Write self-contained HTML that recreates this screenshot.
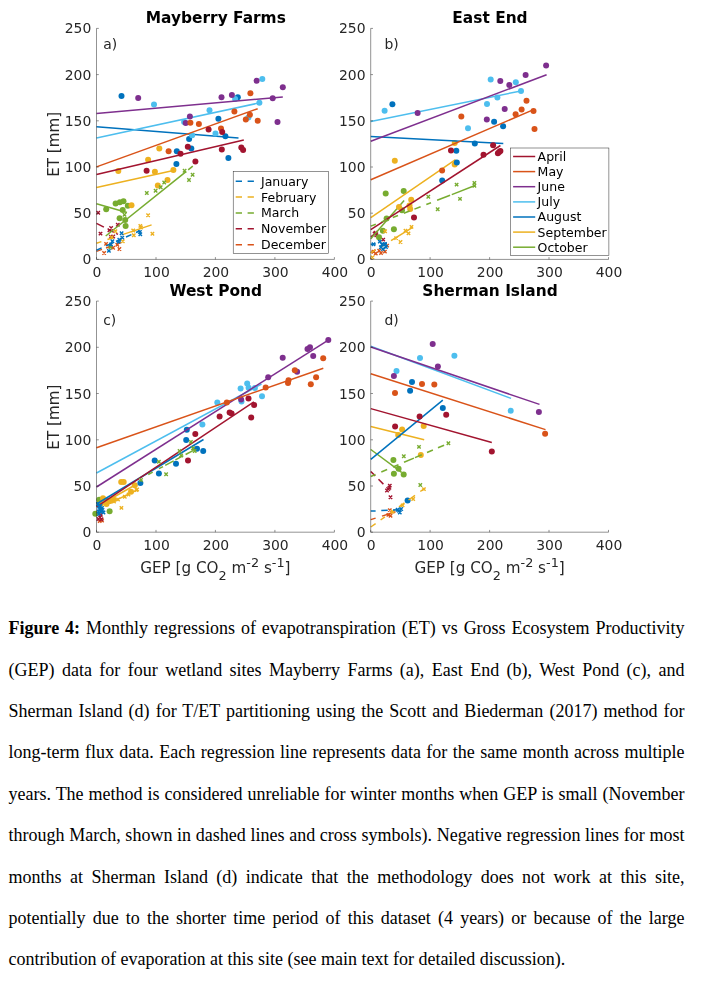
<!DOCTYPE html>
<html lang="en"><head><meta charset="utf-8"><title>Figure 4</title>
<style>
html,body{margin:0;padding:0;background:#fff}
body{width:705px;height:987px;overflow:hidden;position:relative}
svg{position:absolute;left:0;top:0;display:block;will-change:transform}
svg text{font-family:"DejaVu Sans","Liberation Sans",sans-serif;fill:#262626;letter-spacing:0px}
.tk{font-size:13.9px}
.lg{font-size:12.5px;fill:#000}
.lb{font-size:15.2px}
.sub{font-size:12.8px}
.tt{font-size:15.4px;font-weight:bold;fill:#000}
.cap{position:absolute;left:8.5px;top:0;width:676px;margin:0;font-family:"Liberation Serif","DejaVu Serif",serif;font-size:18px;line-height:41.4px;color:#000}
.ln{position:absolute;left:0;width:100%;height:41.4px;text-align:justify;text-align-last:justify;white-space:normal}
.ln.last{text-align:left;text-align-last:left;white-space:nowrap}
</style></head><body>
<svg width="705" height="600" viewBox="0 0 705 600">
<g>
<path d="M104.4 242.2l3.4 3.4m-3.4 0l3.4 -3.4M115.6 243l3.4 3.4m-3.4 0l3.4 -3.4M117.7 247.3l3.4 3.4m-3.4 0l3.4 -3.4M111.4 246l3.4 3.4m-3.4 0l3.4 -3.4M102.4 251.3l3.4 3.4m-3.4 0l3.4 -3.4M108.7 244.5l3.4 3.4m-3.4 0l3.4 -3.4" stroke="#D95319" stroke-width="1.4" fill="none"/>
<line x1="96.5" y1="251.4" x2="102" y2="249.4" stroke="#D95319" stroke-width="1.5"/>
<line x1="106" y1="248" x2="112" y2="245.8" stroke="#D95319" stroke-width="1.5"/>
<line x1="116" y1="244.4" x2="121" y2="242.6" stroke="#D95319" stroke-width="1.5"/>
<path d="M96.5 211l3.4 3.4m-3.4 0l3.4 -3.4M98.8 231.9l3.4 3.4m-3.4 0l3.4 -3.4M109.4 226.3l3.4 3.4m-3.4 0l3.4 -3.4M107.7 228.6l3.4 3.4m-3.4 0l3.4 -3.4M116.1 223l3.4 3.4m-3.4 0l3.4 -3.4M109.2 235.1l3.4 3.4m-3.4 0l3.4 -3.4M111.5 234.8l3.4 3.4m-3.4 0l3.4 -3.4" stroke="#A2142F" stroke-width="1.4" fill="none"/>
<line x1="96.5" y1="223.4" x2="103.9" y2="227.2" stroke="#A2142F" stroke-width="1.5"/>
<line x1="108" y1="229.3" x2="114" y2="232.4" stroke="#A2142F" stroke-width="1.5"/>
<line x1="116" y1="233.4" x2="118" y2="234.4" stroke="#A2142F" stroke-width="1.5"/>
<g fill="#77AC30"><circle cx="115.6" cy="203.6" r="3.0"/><circle cx="119.9" cy="202.2" r="3.0"/><circle cx="123.5" cy="201.2" r="3.0"/><circle cx="127.8" cy="205.7" r="3.0"/><circle cx="106.2" cy="209.3" r="3.0"/><circle cx="122.7" cy="210" r="3.0"/><circle cx="119.6" cy="218.2" r="3.0"/><circle cx="125.2" cy="220" r="3.0"/><circle cx="125.6" cy="226" r="3.0"/></g>
<line x1="96.5" y1="203.7" x2="127" y2="212.5" stroke="#77AC30" stroke-width="1.5"/>
<g fill="#EDB120"><circle cx="159.3" cy="148.4" r="3.0"/><circle cx="148.1" cy="159.8" r="3.0"/><circle cx="118.3" cy="171" r="3.0"/><circle cx="154.9" cy="171.7" r="3.0"/><circle cx="173.4" cy="170" r="3.0"/><circle cx="157.8" cy="185.6" r="3.0"/><circle cx="167.5" cy="180" r="3.0"/><circle cx="131.5" cy="205.2" r="3.0"/></g>
<line x1="96.5" y1="187.4" x2="173.4" y2="170.4" stroke="#EDB120" stroke-width="1.5"/>
<g fill="#0072BD"><circle cx="121.5" cy="95.9" r="3.0"/><circle cx="189.1" cy="138.9" r="3.0"/><circle cx="191.3" cy="148.5" r="3.0"/><circle cx="176.8" cy="151.3" r="3.0"/><circle cx="176.4" cy="164" r="3.0"/><circle cx="237.8" cy="97.3" r="3.0"/><circle cx="218.4" cy="118.8" r="3.0"/><circle cx="225.4" cy="136.2" r="3.0"/><circle cx="228.4" cy="158" r="3.0"/></g>
<line x1="96.5" y1="126.7" x2="238.5" y2="137.9" stroke="#0072BD" stroke-width="1.5"/>
<g fill="#4DBEEE"><circle cx="154" cy="104.6" r="3.0"/><circle cx="209.5" cy="110.2" r="3.0"/><circle cx="184.1" cy="121.9" r="3.0"/><circle cx="192.1" cy="135.2" r="3.0"/><circle cx="262.3" cy="79.1" r="3.0"/><circle cx="235.1" cy="99" r="3.0"/><circle cx="259.4" cy="102.8" r="3.0"/><circle cx="248.4" cy="117.4" r="3.0"/><circle cx="215.5" cy="133.4" r="3.0"/></g>
<line x1="96.5" y1="138.1" x2="259.8" y2="102.8" stroke="#4DBEEE" stroke-width="1.5"/>
<g fill="#7E2F8E"><circle cx="138.2" cy="97.9" r="3.0"/><circle cx="189.9" cy="116.5" r="3.0"/><circle cx="185.7" cy="122.9" r="3.0"/><circle cx="256.6" cy="80.7" r="3.0"/><circle cx="282.8" cy="87.3" r="3.0"/><circle cx="221.5" cy="97.2" r="3.0"/><circle cx="231.9" cy="95.1" r="3.0"/><circle cx="272.7" cy="98.2" r="3.0"/><circle cx="277.5" cy="121.9" r="3.0"/></g>
<line x1="96.5" y1="113.4" x2="282.8" y2="97" stroke="#7E2F8E" stroke-width="1.5"/>
<g fill="#D95319"><circle cx="190.4" cy="122.8" r="3.0"/><circle cx="198.9" cy="124.1" r="3.0"/><circle cx="168.6" cy="151.3" r="3.0"/><circle cx="250.4" cy="93.3" r="3.0"/><circle cx="234.4" cy="111.5" r="3.0"/><circle cx="249.9" cy="114.7" r="3.0"/><circle cx="245.8" cy="119.6" r="3.0"/><circle cx="257.7" cy="120.8" r="3.0"/><circle cx="221" cy="128.5" r="3.0"/></g>
<line x1="96.5" y1="166.9" x2="257.7" y2="108.7" stroke="#D95319" stroke-width="1.5"/>
<g fill="#A2142F"><circle cx="208.6" cy="129.6" r="3.0"/><circle cx="187.8" cy="146.8" r="3.0"/><circle cx="180.5" cy="153.8" r="3.0"/><circle cx="195.4" cy="161.5" r="3.0"/><circle cx="146.6" cy="170.7" r="3.0"/><circle cx="222.2" cy="131.9" r="3.0"/><circle cx="221.8" cy="149.4" r="3.0"/><circle cx="241.3" cy="147.5" r="3.0"/><circle cx="243.1" cy="149.9" r="3.0"/></g>
<line x1="96.5" y1="174.6" x2="243.8" y2="139.9" stroke="#A2142F" stroke-width="1.5"/>
<path d="M145.1 191.3l3.4 3.4m-3.4 0l3.4 -3.4M153.9 189.1l3.4 3.4m-3.4 0l3.4 -3.4M159 185.5l3.4 3.4m-3.4 0l3.4 -3.4M162.5 180.8l3.4 3.4m-3.4 0l3.4 -3.4M182.9 169l3.4 3.4m-3.4 0l3.4 -3.4M190.9 173l3.4 3.4m-3.4 0l3.4 -3.4M187.3 178.3l3.4 3.4m-3.4 0l3.4 -3.4M122.8 213l3.4 3.4m-3.4 0l3.4 -3.4M108.7 245.5l3.4 3.4m-3.4 0l3.4 -3.4" stroke="#77AC30" stroke-width="1.4" fill="none"/>
<line x1="105.7" y1="236" x2="186" y2="171.6" stroke="#77AC30" stroke-width="1.5"/>
<line x1="188.2" y1="169.8" x2="192.8" y2="166.1" stroke="#77AC30" stroke-width="1.5"/>
<path d="M146.4 213.5l3.4 3.4m-3.4 0l3.4 -3.4M150.7 232l3.4 3.4m-3.4 0l3.4 -3.4M138.6 224.2l3.4 3.4m-3.4 0l3.4 -3.4M139.3 225.8l3.4 3.4m-3.4 0l3.4 -3.4M132.1 233.5l3.4 3.4m-3.4 0l3.4 -3.4M131.5 228.8l3.4 3.4m-3.4 0l3.4 -3.4M113.7 229.6l3.4 3.4m-3.4 0l3.4 -3.4M121.1 239.5l3.4 3.4m-3.4 0l3.4 -3.4M110 235.6l3.4 3.4m-3.4 0l3.4 -3.4" stroke="#EDB120" stroke-width="1.4" fill="none"/>
<line x1="96.5" y1="243.2" x2="101.4" y2="241.6" stroke="#EDB120" stroke-width="1.5"/>
<line x1="107.5" y1="239.5" x2="113" y2="237.7" stroke="#EDB120" stroke-width="1.5"/>
<line x1="122.5" y1="234.6" x2="151.6" y2="224.9" stroke="#EDB120" stroke-width="1.5"/>
<path d="M119.9 231.6l3.4 3.4m-3.4 0l3.4 -3.4M138.2 230.3l3.4 3.4m-3.4 0l3.4 -3.4M138.6 232.6l3.4 3.4m-3.4 0l3.4 -3.4M120.6 235.9l3.4 3.4m-3.4 0l3.4 -3.4M117.6 238.1l3.4 3.4m-3.4 0l3.4 -3.4M116.9 240.2l3.4 3.4m-3.4 0l3.4 -3.4M110.7 239.5l3.4 3.4m-3.4 0l3.4 -3.4M107.2 249.2l3.4 3.4m-3.4 0l3.4 -3.4M109.3 242.8l3.4 3.4m-3.4 0l3.4 -3.4" stroke="#0072BD" stroke-width="1.4" fill="none"/>
<line x1="96.5" y1="250.2" x2="101.6" y2="247.9" stroke="#0072BD" stroke-width="1.5"/>
<line x1="106" y1="245.9" x2="112" y2="243.3" stroke="#0072BD" stroke-width="1.5"/>
<line x1="116" y1="241.5" x2="121" y2="239.2" stroke="#0072BD" stroke-width="1.5"/>
<line x1="126" y1="237" x2="131.4" y2="234.6" stroke="#0072BD" stroke-width="1.5"/>
<line x1="136" y1="232.5" x2="140" y2="230.7" stroke="#0072BD" stroke-width="1.5"/>
<path d="M96.5 28.4V259.4H334.4M96.5 259.4v-2.3M156 259.4v-2.3M215.4 259.4v-2.3M274.9 259.4v-2.3M334.4 259.4v-2.3M96.5 259.4h2.3M96.5 213.2h2.3M96.5 167h2.3M96.5 120.8h2.3M96.5 74.6h2.3M96.5 28.4h2.3" stroke="#262626" stroke-width="0.5" fill="none"/>
<g class="tk" text-anchor="middle"><text x="97" y="277.2">0</text><text x="156.5" y="277.2">100</text><text x="215.9" y="277.2">200</text><text x="275.4" y="277.2">300</text><text x="334.9" y="277.2">400</text></g>
<g class="tk" text-anchor="end"><text x="91.3" y="264.4">0</text><text x="91.3" y="218.2">50</text><text x="91.3" y="172">100</text><text x="91.3" y="125.8">150</text><text x="91.3" y="79.6">200</text><text x="91.3" y="33.4">250</text></g>
<text class="tt" text-anchor="middle" x="215.8" y="22.9">Mayberry Farms</text>
<text class="tk" x="103.2" y="48.9">a)</text>
</g>
<g>
<path d="M371.8 250.1l3.4 3.4m-3.4 0l3.4 -3.4M374.1 251.8l3.4 3.4m-3.4 0l3.4 -3.4M377.5 249l3.4 3.4m-3.4 0l3.4 -3.4M383.2 249.9l3.4 3.4m-3.4 0l3.4 -3.4M385.4 243.9l3.4 3.4m-3.4 0l3.4 -3.4M379.3 251.3l3.4 3.4m-3.4 0l3.4 -3.4" stroke="#D95319" stroke-width="1.4" fill="none"/>
<line x1="370.8" y1="252.6" x2="375.6" y2="249.6" stroke="#D95319" stroke-width="1.5"/>
<line x1="380" y1="246.8" x2="386" y2="243.1" stroke="#D95319" stroke-width="1.5"/>
<path d="M372.9 232l3.4 3.4m-3.4 0l3.4 -3.4M374.6 233.7l3.4 3.4m-3.4 0l3.4 -3.4M381.5 237.9l3.4 3.4m-3.4 0l3.4 -3.4M373.8 231.1l3.4 3.4m-3.4 0l3.4 -3.4" stroke="#A2142F" stroke-width="1.4" fill="none"/>
<line x1="370.8" y1="236.7" x2="378.1" y2="232.7" stroke="#A2142F" stroke-width="1.5"/>
<g fill="#77AC30"><circle cx="385.7" cy="193.4" r="3.0"/><circle cx="403.7" cy="191" r="3.0"/><circle cx="402" cy="210.3" r="3.0"/><circle cx="386.6" cy="218.6" r="3.0"/><circle cx="393.9" cy="229.3" r="3.0"/><circle cx="382.9" cy="230.8" r="3.0"/><circle cx="379" cy="237.3" r="3.0"/></g>
<line x1="370.8" y1="238.8" x2="404.1" y2="200.4" stroke="#77AC30" stroke-width="1.5"/>
<g fill="#EDB120"><circle cx="454.7" cy="142.9" r="3.0"/><circle cx="394.8" cy="160.7" r="3.0"/><circle cx="454.7" cy="164.5" r="3.0"/><circle cx="411.2" cy="199.7" r="3.0"/><circle cx="399" cy="207" r="3.0"/><circle cx="409.5" cy="205.4" r="3.0"/><circle cx="410.2" cy="208.9" r="3.0"/></g>
<line x1="370.8" y1="217.6" x2="455.5" y2="159.6" stroke="#EDB120" stroke-width="1.5"/>
<g fill="#0072BD"><circle cx="392.4" cy="104.3" r="3.0"/><circle cx="474.8" cy="143.5" r="3.0"/><circle cx="456.3" cy="150.7" r="3.0"/><circle cx="456.8" cy="162.5" r="3.0"/><circle cx="442.2" cy="180.4" r="3.0"/><circle cx="494.1" cy="121.7" r="3.0"/><circle cx="503.1" cy="126.2" r="3.0"/></g>
<line x1="370.8" y1="136.6" x2="503.3" y2="143.5" stroke="#0072BD" stroke-width="1.5"/>
<g fill="#4DBEEE"><circle cx="384.6" cy="110.7" r="3.0"/><circle cx="468" cy="128.2" r="3.0"/><circle cx="490.7" cy="79.6" r="3.0"/><circle cx="515.8" cy="82.3" r="3.0"/><circle cx="521" cy="90.9" r="3.0"/><circle cx="497.4" cy="97.5" r="3.0"/><circle cx="487" cy="104" r="3.0"/></g>
<line x1="370.8" y1="121.6" x2="521" y2="90.9" stroke="#4DBEEE" stroke-width="1.5"/>
<g fill="#7E2F8E"><circle cx="417.6" cy="113.1" r="3.0"/><circle cx="546.1" cy="65.5" r="3.0"/><circle cx="525.6" cy="75" r="3.0"/><circle cx="500.3" cy="81.1" r="3.0"/><circle cx="509.3" cy="84.9" r="3.0"/><circle cx="504.7" cy="109.1" r="3.0"/><circle cx="486.8" cy="119.4" r="3.0"/></g>
<line x1="370.8" y1="141.3" x2="546.6" y2="74.7" stroke="#7E2F8E" stroke-width="1.5"/>
<g fill="#D95319"><circle cx="461.3" cy="116.4" r="3.0"/><circle cx="526.5" cy="100.7" r="3.0"/><circle cx="521.6" cy="109.4" r="3.0"/><circle cx="533.5" cy="110.9" r="3.0"/><circle cx="515.6" cy="114.2" r="3.0"/><circle cx="534.5" cy="129" r="3.0"/><circle cx="442.1" cy="170.5" r="3.0"/></g>
<line x1="370.8" y1="179.8" x2="533.6" y2="109.6" stroke="#D95319" stroke-width="1.5"/>
<g fill="#A2142F"><circle cx="451" cy="150.5" r="3.0"/><circle cx="483.5" cy="154.8" r="3.0"/><circle cx="493.1" cy="145.2" r="3.0"/><circle cx="500.4" cy="151.1" r="3.0"/><circle cx="497.9" cy="153.2" r="3.0"/><circle cx="499.2" cy="152" r="3.0"/><circle cx="414" cy="217.6" r="3.0"/></g>
<line x1="370.8" y1="229.7" x2="500.4" y2="145.5" stroke="#A2142F" stroke-width="1.5"/>
<path d="M426.6 195.1l3.4 3.4m-3.4 0l3.4 -3.4M454.9 182.9l3.4 3.4m-3.4 0l3.4 -3.4M472.7 181.2l3.4 3.4m-3.4 0l3.4 -3.4M472.7 184.1l3.4 3.4m-3.4 0l3.4 -3.4M458.3 197.2l3.4 3.4m-3.4 0l3.4 -3.4M436 207.5l3.4 3.4m-3.4 0l3.4 -3.4" stroke="#77AC30" stroke-width="1.4" fill="none"/>
<line x1="370.8" y1="226.1" x2="375.8" y2="224.2" stroke="#77AC30" stroke-width="1.5"/>
<line x1="381.6" y1="221.9" x2="387" y2="219.8" stroke="#77AC30" stroke-width="1.5"/>
<line x1="392.8" y1="217.5" x2="398" y2="215.5" stroke="#77AC30" stroke-width="1.5"/>
<line x1="403.8" y1="213.3" x2="409.6" y2="211" stroke="#77AC30" stroke-width="1.5"/>
<line x1="414.4" y1="209.1" x2="420.6" y2="206.7" stroke="#77AC30" stroke-width="1.5"/>
<line x1="426.3" y1="204.5" x2="431" y2="202.7" stroke="#77AC30" stroke-width="1.5"/>
<line x1="437.1" y1="200.3" x2="450.1" y2="195.2" stroke="#77AC30" stroke-width="1.5"/>
<line x1="451.8" y1="194.6" x2="475.6" y2="185.3" stroke="#77AC30" stroke-width="1.5"/>
<path d="M409.8 225.2l3.4 3.4m-3.4 0l3.4 -3.4M403.8 229.1l3.4 3.4m-3.4 0l3.4 -3.4M406.8 231.7l3.4 3.4m-3.4 0l3.4 -3.4M394.4 236.4l3.4 3.4m-3.4 0l3.4 -3.4M398.8 240.3l3.4 3.4m-3.4 0l3.4 -3.4M370.7 255.7l3.4 3.4m-3.4 0l3.4 -3.4M383.4 229.6l3.4 3.4m-3.4 0l3.4 -3.4" stroke="#EDB120" stroke-width="1.4" fill="none"/>
<line x1="370.8" y1="252.9" x2="375.2" y2="250.2" stroke="#EDB120" stroke-width="1.5"/>
<line x1="380" y1="247.3" x2="385" y2="244.3" stroke="#EDB120" stroke-width="1.5"/>
<line x1="391" y1="240.6" x2="412.7" y2="227.4" stroke="#EDB120" stroke-width="1.5"/>
<path d="M371.8 242.5l3.4 3.4m-3.4 0l3.4 -3.4M378.1 239.9l3.4 3.4m-3.4 0l3.4 -3.4M380.3 242.8l3.4 3.4m-3.4 0l3.4 -3.4M383.2 242.2l3.4 3.4m-3.4 0l3.4 -3.4M379.2 245.6l3.4 3.4m-3.4 0l3.4 -3.4M381.3 247.3l3.4 3.4m-3.4 0l3.4 -3.4M384.3 245.3l3.4 3.4m-3.4 0l3.4 -3.4" stroke="#0072BD" stroke-width="1.4" fill="none"/>
<line x1="370.8" y1="244.2" x2="375.8" y2="243.9" stroke="#0072BD" stroke-width="1.5"/>
<line x1="381" y1="243.6" x2="387" y2="243.3" stroke="#0072BD" stroke-width="1.5"/>
<path d="M370.7 28.4V259.4H608.5M370.7 259.4v-2.3M430.1 259.4v-2.3M489.6 259.4v-2.3M549 259.4v-2.3M608.5 259.4v-2.3M370.7 259.4h2.3M370.7 213.2h2.3M370.7 167h2.3M370.7 120.8h2.3M370.7 74.6h2.3M370.7 28.4h2.3" stroke="#262626" stroke-width="0.5" fill="none"/>
<g class="tk" text-anchor="middle"><text x="371.2" y="277.2">0</text><text x="430.6" y="277.2">100</text><text x="490.1" y="277.2">200</text><text x="549.5" y="277.2">300</text><text x="609" y="277.2">400</text></g>
<g class="tk" text-anchor="end"><text x="365.5" y="264.4">0</text><text x="365.5" y="218.2">50</text><text x="365.5" y="172">100</text><text x="365.5" y="125.8">150</text><text x="365.5" y="79.6">200</text><text x="365.5" y="33.4">250</text></g>
<text class="tt" text-anchor="middle" x="490" y="22.9">East End</text>
<text class="tk" x="384.5" y="48.9">b)</text>
</g>
<g>
<path d="M98 519.3l3.4 3.4m-3.4 0l3.4 -3.4M100.3 518.8l3.4 3.4m-3.4 0l3.4 -3.4" stroke="#D95319" stroke-width="1.4" fill="none"/>
<path d="M99.2 513.1l3.4 3.4m-3.4 0l3.4 -3.4M96.7 517.3l3.4 3.4m-3.4 0l3.4 -3.4M99.8 517.6l3.4 3.4m-3.4 0l3.4 -3.4M98.3 515.8l3.4 3.4m-3.4 0l3.4 -3.4" stroke="#A2142F" stroke-width="1.4" fill="none"/>
<g fill="#77AC30"><circle cx="99.2" cy="499.7" r="3.0"/><circle cx="109.6" cy="511.3" r="3.0"/><circle cx="95.3" cy="513.8" r="3.0"/></g>
<line x1="96.5" y1="503" x2="108" y2="498.5" stroke="#77AC30" stroke-width="1.5"/>
<g fill="#EDB120"><circle cx="121.2" cy="482.1" r="3.0"/><circle cx="123.7" cy="482.1" r="3.0"/><circle cx="134.8" cy="485.2" r="3.0"/><circle cx="131" cy="491.7" r="3.0"/><circle cx="103" cy="498.2" r="3.0"/><circle cx="106.5" cy="503.9" r="3.0"/><circle cx="110" cy="501" r="3.0"/><circle cx="113.5" cy="499.5" r="3.0"/><circle cx="101" cy="503.5" r="3.0"/></g>
<line x1="98" y1="506" x2="136" y2="484.5" stroke="#EDB120" stroke-width="1.5"/>
<g fill="#0072BD"><circle cx="186.2" cy="440" r="3.0"/><circle cx="197" cy="448.7" r="3.0"/><circle cx="203.2" cy="451" r="3.0"/><circle cx="154.7" cy="460.6" r="3.0"/><circle cx="176" cy="463.7" r="3.0"/><circle cx="158.9" cy="473.5" r="3.0"/><circle cx="140.4" cy="482.9" r="3.0"/><circle cx="186.8" cy="429.8" r="3.0"/></g>
<line x1="96.5" y1="504" x2="203.5" y2="439.5" stroke="#0072BD" stroke-width="1.5"/>
<g fill="#4DBEEE"><circle cx="247.2" cy="383.5" r="3.0"/><circle cx="240.6" cy="388.5" r="3.0"/><circle cx="248.6" cy="387.7" r="3.0"/><circle cx="254.9" cy="388.1" r="3.0"/><circle cx="262" cy="396.3" r="3.0"/><circle cx="241.5" cy="401.4" r="3.0"/><circle cx="217.3" cy="402.4" r="3.0"/><circle cx="202.4" cy="424.4" r="3.0"/></g>
<line x1="96.5" y1="473" x2="261.5" y2="384.2" stroke="#4DBEEE" stroke-width="1.5"/>
<g fill="#7E2F8E"><circle cx="328.3" cy="340.1" r="3.0"/><circle cx="310" cy="347.2" r="3.0"/><circle cx="307.5" cy="349" r="3.0"/><circle cx="313.2" cy="356.1" r="3.0"/><circle cx="282.7" cy="357.8" r="3.0"/><circle cx="297.1" cy="371.8" r="3.0"/><circle cx="268.2" cy="377.3" r="3.0"/><circle cx="241.1" cy="399.4" r="3.0"/></g>
<line x1="96.5" y1="487" x2="328.3" y2="340.1" stroke="#7E2F8E" stroke-width="1.5"/>
<g fill="#D95319"><circle cx="323.2" cy="358.2" r="3.0"/><circle cx="294.8" cy="370.3" r="3.0"/><circle cx="316.1" cy="377.3" r="3.0"/><circle cx="288.5" cy="380.2" r="3.0"/><circle cx="288" cy="383.1" r="3.0"/><circle cx="310.8" cy="384.3" r="3.0"/><circle cx="265.7" cy="387.5" r="3.0"/><circle cx="226.8" cy="402.4" r="3.0"/></g>
<line x1="96.5" y1="447.8" x2="323.3" y2="368.2" stroke="#D95319" stroke-width="1.5"/>
<g fill="#A2142F"><circle cx="248.5" cy="398.5" r="3.0"/><circle cx="254.1" cy="405" r="3.0"/><circle cx="251.2" cy="417.6" r="3.0"/><circle cx="229.6" cy="412.6" r="3.0"/><circle cx="231.6" cy="413.4" r="3.0"/><circle cx="219.6" cy="416.5" r="3.0"/><circle cx="195.3" cy="433.9" r="3.0"/><circle cx="188" cy="460.4" r="3.0"/></g>
<line x1="96.5" y1="506.9" x2="253.9" y2="401.9" stroke="#A2142F" stroke-width="1.5"/>
<path d="M189.2 440.2l3.4 3.4m-3.4 0l3.4 -3.4M177.9 449.3l3.4 3.4m-3.4 0l3.4 -3.4M179.4 453.8l3.4 3.4m-3.4 0l3.4 -3.4M191.3 446.5l3.4 3.4m-3.4 0l3.4 -3.4M193 449.3l3.4 3.4m-3.4 0l3.4 -3.4M157.2 460.1l3.4 3.4m-3.4 0l3.4 -3.4M164.4 472.6l3.4 3.4m-3.4 0l3.4 -3.4M139.3 478.3l3.4 3.4m-3.4 0l3.4 -3.4" stroke="#77AC30" stroke-width="1.4" fill="none"/>
<line x1="148.2" y1="474.5" x2="152.7" y2="472.1" stroke="#77AC30" stroke-width="1.5"/>
<line x1="159" y1="468.7" x2="163" y2="466.6" stroke="#77AC30" stroke-width="1.5"/>
<line x1="165.2" y1="465.4" x2="173.7" y2="460.9" stroke="#77AC30" stroke-width="1.5"/>
<line x1="175.4" y1="459.9" x2="183.3" y2="455.7" stroke="#77AC30" stroke-width="1.5"/>
<line x1="185.6" y1="454.5" x2="193.5" y2="450.3" stroke="#77AC30" stroke-width="1.5"/>
<path d="M119.7 506.2l3.4 3.4m-3.4 0l3.4 -3.4M134.8 488.3l3.4 3.4m-3.4 0l3.4 -3.4M135.4 487.8l3.4 3.4m-3.4 0l3.4 -3.4M123.1 495.1l3.4 3.4m-3.4 0l3.4 -3.4M116.3 497.8l3.4 3.4m-3.4 0l3.4 -3.4M112.3 499.8l3.4 3.4m-3.4 0l3.4 -3.4M126.8 492.8l3.4 3.4m-3.4 0l3.4 -3.4" stroke="#EDB120" stroke-width="1.4" fill="none"/>
<line x1="109" y1="503.6" x2="138" y2="489.5" stroke="#EDB120" stroke-width="1.5"/>
<path d="M98.8 504.3l3.4 3.4m-3.4 0l3.4 -3.4M97.8 507.3l3.4 3.4m-3.4 0l3.4 -3.4M99.3 510.3l3.4 3.4m-3.4 0l3.4 -3.4M100.8 508.3l3.4 3.4m-3.4 0l3.4 -3.4M97.3 512.3l3.4 3.4m-3.4 0l3.4 -3.4M101.8 510.8l3.4 3.4m-3.4 0l3.4 -3.4M96.3 502.3l3.4 3.4m-3.4 0l3.4 -3.4M97.3 504.8l3.4 3.4m-3.4 0l3.4 -3.4M100.3 506.3l3.4 3.4m-3.4 0l3.4 -3.4M96.8 509.8l3.4 3.4m-3.4 0l3.4 -3.4" stroke="#0072BD" stroke-width="1.4" fill="none"/>
<path d="M96.5 301.1V532.2H334.4M96.5 532.2v-2.3M156 532.2v-2.3M215.4 532.2v-2.3M274.9 532.2v-2.3M334.4 532.2v-2.3M96.5 532.2h2.3M96.5 486h2.3M96.5 439.8h2.3M96.5 393.5h2.3M96.5 347.3h2.3M96.5 301.1h2.3" stroke="#262626" stroke-width="0.5" fill="none"/>
<g class="tk" text-anchor="middle"><text x="97" y="550">0</text><text x="156.5" y="550">100</text><text x="215.9" y="550">200</text><text x="275.4" y="550">300</text><text x="334.9" y="550">400</text></g>
<g class="tk" text-anchor="end"><text x="91.3" y="537.2">0</text><text x="91.3" y="491">50</text><text x="91.3" y="444.8">100</text><text x="91.3" y="398.5">150</text><text x="91.3" y="352.3">200</text><text x="91.3" y="306.1">250</text></g>
<text class="tt" text-anchor="middle" x="215.8" y="295.6">West Pond</text>
<text class="tk" x="103.2" y="325.2">c)</text>
</g>
<g>
<path d="M388.1 508.4l3.4 3.4m-3.4 0l3.4 -3.4M388.8 514.1l3.4 3.4m-3.4 0l3.4 -3.4M386.7 513.2l3.4 3.4m-3.4 0l3.4 -3.4" stroke="#D95319" stroke-width="1.4" fill="none"/>
<line x1="370.8" y1="519.6" x2="375.6" y2="518.1" stroke="#D95319" stroke-width="1.5"/>
<line x1="382" y1="516.1" x2="395.5" y2="511.8" stroke="#D95319" stroke-width="1.5"/>
<path d="M388.1 483.9l3.4 3.4m-3.4 0l3.4 -3.4M387.7 486l3.4 3.4m-3.4 0l3.4 -3.4M385.3 488.8l3.4 3.4m-3.4 0l3.4 -3.4M388.8 495.6l3.4 3.4m-3.4 0l3.4 -3.4" stroke="#A2142F" stroke-width="1.4" fill="none"/>
<line x1="370.8" y1="471.5" x2="375.2" y2="475.9" stroke="#A2142F" stroke-width="1.5"/>
<line x1="378.5" y1="479.2" x2="383.4" y2="484.1" stroke="#A2142F" stroke-width="1.5"/>
<line x1="386.5" y1="487.2" x2="390" y2="490.7" stroke="#A2142F" stroke-width="1.5"/>
<g fill="#77AC30"><circle cx="393.4" cy="460" r="3.0"/><circle cx="398.6" cy="468.8" r="3.0"/><circle cx="393.9" cy="473.8" r="3.0"/><circle cx="403.7" cy="474.5" r="3.0"/></g>
<line x1="370.8" y1="449.5" x2="401.6" y2="472.4" stroke="#77AC30" stroke-width="1.5"/>
<g fill="#EDB120"><circle cx="423.7" cy="426" r="3.0"/><circle cx="402.1" cy="429.4" r="3.0"/><circle cx="398.2" cy="435" r="3.0"/><circle cx="420.8" cy="455.1" r="3.0"/></g>
<line x1="370.8" y1="426.5" x2="424.2" y2="439.8" stroke="#EDB120" stroke-width="1.5"/>
<g fill="#0072BD"><circle cx="412" cy="381.9" r="3.0"/><circle cx="410.1" cy="390.8" r="3.0"/><circle cx="442.8" cy="408" r="3.0"/><circle cx="407.6" cy="500.5" r="3.0"/></g>
<line x1="370.8" y1="459.3" x2="442.8" y2="400.1" stroke="#0072BD" stroke-width="1.5"/>
<g fill="#4DBEEE"><circle cx="420" cy="357.9" r="3.0"/><circle cx="454.4" cy="355.7" r="3.0"/><circle cx="396.5" cy="371" r="3.0"/><circle cx="510.7" cy="410.7" r="3.0"/></g>
<line x1="370.8" y1="346.2" x2="511.1" y2="398.4" stroke="#4DBEEE" stroke-width="1.5"/>
<g fill="#7E2F8E"><circle cx="432.7" cy="344" r="3.0"/><circle cx="437.9" cy="366.6" r="3.0"/><circle cx="393.9" cy="376" r="3.0"/><circle cx="538.9" cy="412.1" r="3.0"/></g>
<line x1="370.8" y1="347" x2="539.5" y2="404.4" stroke="#7E2F8E" stroke-width="1.5"/>
<g fill="#D95319"><circle cx="422" cy="384.1" r="3.0"/><circle cx="434.3" cy="384.6" r="3.0"/><circle cx="395" cy="393.1" r="3.0"/><circle cx="545.1" cy="433.8" r="3.0"/></g>
<line x1="370.8" y1="373.7" x2="545.5" y2="429.6" stroke="#D95319" stroke-width="1.5"/>
<g fill="#A2142F"><circle cx="419.6" cy="416.5" r="3.0"/><circle cx="446.2" cy="414.8" r="3.0"/><circle cx="395.1" cy="426.5" r="3.0"/><circle cx="491.8" cy="451.6" r="3.0"/></g>
<line x1="370.8" y1="408.6" x2="491.8" y2="442.5" stroke="#A2142F" stroke-width="1.5"/>
<path d="M446.7 441.5l3.4 3.4m-3.4 0l3.4 -3.4M417.3 445.2l3.4 3.4m-3.4 0l3.4 -3.4M402.1 454.6l3.4 3.4m-3.4 0l3.4 -3.4M418.6 483.3l3.4 3.4m-3.4 0l3.4 -3.4" stroke="#77AC30" stroke-width="1.4" fill="none"/>
<line x1="370.8" y1="476.5" x2="375.5" y2="474.5" stroke="#77AC30" stroke-width="1.5"/>
<line x1="381.3" y1="472" x2="387.1" y2="469.5" stroke="#77AC30" stroke-width="1.5"/>
<line x1="393" y1="467" x2="398.5" y2="464.7" stroke="#77AC30" stroke-width="1.5"/>
<line x1="404" y1="462.3" x2="413.9" y2="458.1" stroke="#77AC30" stroke-width="1.5"/>
<line x1="415" y1="457.6" x2="421.8" y2="454.7" stroke="#77AC30" stroke-width="1.5"/>
<line x1="427" y1="452.5" x2="432.9" y2="450" stroke="#77AC30" stroke-width="1.5"/>
<line x1="438" y1="447.8" x2="444.1" y2="445.2" stroke="#77AC30" stroke-width="1.5"/>
<path d="M422.2 487.4l3.4 3.4m-3.4 0l3.4 -3.4M411.5 497.3l3.4 3.4m-3.4 0l3.4 -3.4M400.9 503.7l3.4 3.4m-3.4 0l3.4 -3.4M391 510.1l3.4 3.4m-3.4 0l3.4 -3.4" stroke="#EDB120" stroke-width="1.4" fill="none"/>
<line x1="370.8" y1="527" x2="375.6" y2="523.6" stroke="#EDB120" stroke-width="1.5"/>
<line x1="380.6" y1="520" x2="384.9" y2="516.9" stroke="#EDB120" stroke-width="1.5"/>
<line x1="390.5" y1="512.9" x2="395" y2="509.6" stroke="#EDB120" stroke-width="1.5"/>
<line x1="399" y1="506.8" x2="404.5" y2="502.8" stroke="#EDB120" stroke-width="1.5"/>
<line x1="408.5" y1="500" x2="415" y2="495.3" stroke="#EDB120" stroke-width="1.5"/>
<line x1="420.3" y1="491.5" x2="424.6" y2="488.4" stroke="#EDB120" stroke-width="1.5"/>
<path d="M395.9 508l3.4 3.4m-3.4 0l3.4 -3.4M399.5 507.3l3.4 3.4m-3.4 0l3.4 -3.4M398.1 510.8l3.4 3.4m-3.4 0l3.4 -3.4M397.3 509.1l3.4 3.4m-3.4 0l3.4 -3.4" stroke="#0072BD" stroke-width="1.4" fill="none"/>
<line x1="370.8" y1="511.1" x2="375.6" y2="510.9" stroke="#0072BD" stroke-width="1.5"/>
<line x1="381.3" y1="510.6" x2="387.7" y2="510.2" stroke="#0072BD" stroke-width="1.5"/>
<line x1="393" y1="510" x2="398" y2="509.7" stroke="#0072BD" stroke-width="1.5"/>
<path d="M370.7 301.1V532.2H608.5M370.7 532.2v-2.3M430.1 532.2v-2.3M489.6 532.2v-2.3M549 532.2v-2.3M608.5 532.2v-2.3M370.7 532.2h2.3M370.7 486h2.3M370.7 439.8h2.3M370.7 393.5h2.3M370.7 347.3h2.3M370.7 301.1h2.3" stroke="#262626" stroke-width="0.5" fill="none"/>
<g class="tk" text-anchor="middle"><text x="371.2" y="550">0</text><text x="430.6" y="550">100</text><text x="490.1" y="550">200</text><text x="549.5" y="550">300</text><text x="609" y="550">400</text></g>
<g class="tk" text-anchor="end"><text x="365.5" y="537.2">0</text><text x="365.5" y="491">50</text><text x="365.5" y="444.8">100</text><text x="365.5" y="398.5">150</text><text x="365.5" y="352.3">200</text><text x="365.5" y="306.1">250</text></g>
<text class="tt" text-anchor="middle" x="490" y="295.6">Sherman Island</text>
<text class="tk" x="384.5" y="325.2">d)</text>
</g>
<g>
<rect x="233.2" y="171.5" width="95.3" height="82" fill="#fff" stroke="#262626" stroke-width="0.5"/>
<line x1="235.7" y1="181.2" x2="254.2" y2="181.2" stroke="#0072BD" stroke-width="1.5" stroke-dasharray="6.3 5.6"/>
<text class="lg" x="261" y="185.6">January</text>
<line x1="235.7" y1="197.1" x2="254.2" y2="197.1" stroke="#EDB120" stroke-width="1.5" stroke-dasharray="6.3 5.6"/>
<text class="lg" x="261" y="201.5">February</text>
<line x1="235.7" y1="212.9" x2="254.2" y2="212.9" stroke="#77AC30" stroke-width="1.5" stroke-dasharray="6.3 5.6"/>
<text class="lg" x="261" y="217.3">March</text>
<line x1="235.7" y1="228.8" x2="254.2" y2="228.8" stroke="#A2142F" stroke-width="1.5" stroke-dasharray="6.3 5.6"/>
<text class="lg" x="261" y="233.2">November</text>
<line x1="235.7" y1="244.7" x2="254.2" y2="244.7" stroke="#D95319" stroke-width="1.5" stroke-dasharray="6.3 5.6"/>
<text class="lg" x="261" y="249.1">December</text>
</g>
<g>
<rect x="510.6" y="148" width="98.3" height="107.7" fill="#fff" stroke="#262626" stroke-width="0.5"/>
<line x1="513.1" y1="156.5" x2="535.2" y2="156.5" stroke="#A2142F" stroke-width="1.5"/>
<text class="lg" x="537.6" y="160.9">April</text>
<line x1="513.1" y1="171.6" x2="535.2" y2="171.6" stroke="#D95319" stroke-width="1.5"/>
<text class="lg" x="537.6" y="176">May</text>
<line x1="513.1" y1="186.7" x2="535.2" y2="186.7" stroke="#7E2F8E" stroke-width="1.5"/>
<text class="lg" x="537.6" y="191.1">June</text>
<line x1="513.1" y1="201.9" x2="535.2" y2="201.9" stroke="#4DBEEE" stroke-width="1.5"/>
<text class="lg" x="537.6" y="206.3">July</text>
<line x1="513.1" y1="217" x2="535.2" y2="217" stroke="#0072BD" stroke-width="1.5"/>
<text class="lg" x="537.6" y="221.4">August</text>
<line x1="513.1" y1="232.1" x2="535.2" y2="232.1" stroke="#EDB120" stroke-width="1.5"/>
<text class="lg" x="537.6" y="236.5">September</text>
<line x1="513.1" y1="247.2" x2="535.2" y2="247.2" stroke="#77AC30" stroke-width="1.5"/>
<text class="lg" x="537.6" y="251.6">October</text>
</g>
<text class="lb" text-anchor="middle" x="215.4" y="573.4">GEP [g CO<tspan class="sub" dy="7.0">2</tspan><tspan dy="-7.0"> m</tspan><tspan class="sub" dy="-6.3">-2</tspan><tspan dy="6.3"> s</tspan><tspan class="sub" dy="-6.3">-1</tspan><tspan dy="6.3">]</tspan></text>
<text class="lb" text-anchor="middle" x="489.6" y="573.4">GEP [g CO<tspan class="sub" dy="7.0">2</tspan><tspan dy="-7.0"> m</tspan><tspan class="sub" dy="-6.3">-2</tspan><tspan dy="6.3"> s</tspan><tspan class="sub" dy="-6.3">-1</tspan><tspan dy="6.3">]</tspan></text>
<text class="lb" text-anchor="middle" transform="translate(59.2 144.3) rotate(-90)">ET [mm]</text>
<text class="lb" text-anchor="middle" transform="translate(59.2 417.1) rotate(-90)">ET [mm]</text>
</svg>
<div class="cap"><div class="ln" style="top:607.9px"><b>Figure 4:</b> Monthly regressions of evapotranspiration (ET) vs Gross Ecosystem Productivity</div><div class="ln" style="top:649.7px">(GEP) data for four wetland sites Mayberry Farms (a), East End (b), West Pond (c), and</div><div class="ln" style="top:690.7px">Sherman Island (d) for T/ET partitioning using the Scott and Biederman (2017) method for</div><div class="ln" style="top:732.1px">long-term flux data. Each regression line represents data for the same month across multiple</div><div class="ln" style="top:773.5px">years. The method is considered unreliable for winter months when GEP is small (November</div><div class="ln" style="top:814.9px">through March, shown in dashed lines and cross symbols). Negative regression lines for most</div><div class="ln" style="top:857.3px">months at Sherman Island (d) indicate that the methodology does not work at this site,</div><div class="ln" style="top:897.7px">potentially due to the shorter time period of this dataset (4 years) or because of the large</div><div class="ln last" style="top:939.1px">contribution of evaporation at this site (see main text for detailed discussion).</div></div>
</body></html>
